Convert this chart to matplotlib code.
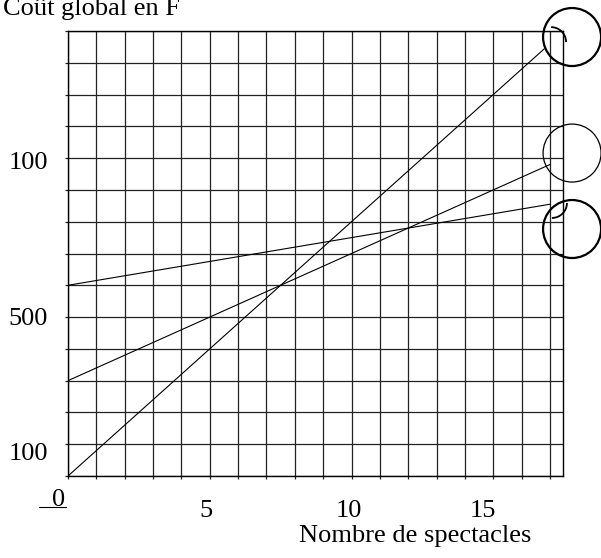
import numpy as np
import matplotlib.pyplot as plt
from matplotlib.patches import Ellipse, Arc

plt.rcParams['font.family'] = ['Liberation Serif', 'DejaVu Serif']

# nombre de spectacles (bornes des droites) et cout global en F
x_debut = [0, 0, 0]
x_fin = [16.8, 17, 17]
cout_fixe = [0, 300, 600]
cout_par_spectacle = [80, 40, 15]

x_ticks_labels = ['5', '10', '15']
y_ticks_labels = ['100', '500', '100']

x_max = 17.46
y_max = 1400

fig = plt.figure(figsize=(6.01, 5.58), dpi=100)
ax = fig.add_axes([68/601, 82/558, 495/601, 445/558])

ax.set_xlim(0, x_max)
ax.set_ylim(0, y_max)
ax.set_xticks(np.arange(0, 18, 1))
ax.set_yticks(np.arange(0, 1500, 100))
ax.grid(True, color='#222222', linewidth=0.9)
ax.set_axisbelow(True)
ax.tick_params(labelbottom=False, labelleft=False, direction='out',
               length=2.5, width=0.9, color='#222222')
for s in ax.spines.values():
    s.set_color('black')
    s.set_linewidth(1.0)

# les trois droites
for x0, x1, a, b in zip(x_debut, x_fin, cout_fixe, cout_par_spectacle):
    xs = np.array([x0, x1])
    ax.plot(xs, a + b*xs, color='black', linewidth=0.8)

# cercles à droite
px = 28.35  # px par spectacle
py = 31.79 / 100  # px par F
r = 29
for cy, lw in [(1381, 1.6), (1016, 0.9), (777, 1.6)]:
    ax.add_patch(Ellipse((17.78, cy), 2*r/px, 2*r/py, fill=False,
                         edgecolor='black', linewidth=lw, clip_on=False))
ax.add_patch(Arc((17.04, 1365), 30/px, 30/py, theta1=0, theta2=90,
                 color='black', linewidth=1.3, clip_on=False))
ax.add_patch(Arc((17.07, 859), 30/px, 30/py, theta1=270, theta2=360,
                 color='black', linewidth=1.3, clip_on=False))

fs = 19
for lab, y in zip(y_ticks_labels, [966, 475, 50]):
    ax.text(-0.7, y, lab, ha='right', va='baseline', fontsize=fs, clip_on=False)
ax.text(-0.35, -94, '0', ha='center', va='baseline', fontsize=fs, clip_on=False)
ax.plot([-1.02, -0.07], [-98, -98], color='black', linewidth=0.8, clip_on=False)
for lab, x in zip(x_ticks_labels, [4.85, 9.9, 14.64]):
    ax.text(x, -129, lab, ha='center', va='baseline', fontsize=fs, clip_on=False)
ax.text(12.24, -208, 'Nombre de spectacles', ha='center', va='baseline',
        fontsize=fs, clip_on=False)
fig.text(3/601, 1 - 15/558, 'Coût global en F', ha='left', va='baseline',
         fontsize=fs)

fig.savefig('out.png', dpi=100)
